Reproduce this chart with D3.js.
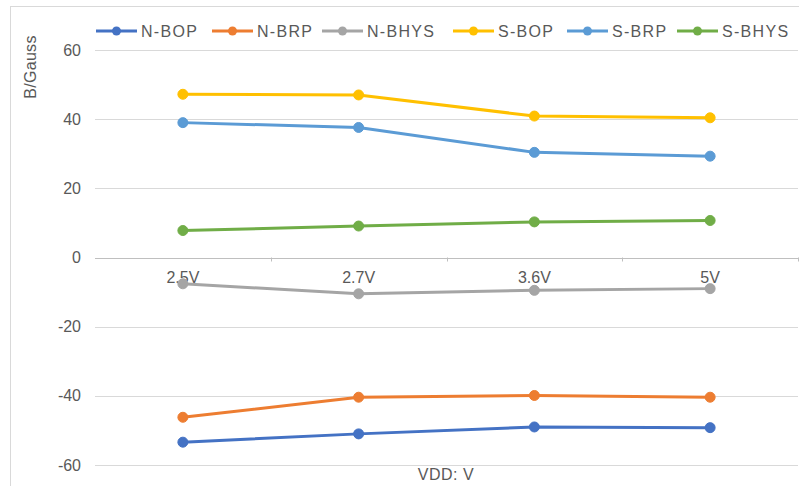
<!DOCTYPE html>
<html><head><meta charset="utf-8">
<script src="https://cdn.jsdelivr.net/npm/d3@7"></script>
<style>body{margin:0;background:#fff}svg{display:block}</style>
</head><body><svg id="c" width="799" height="486"></svg>
<script>
const categories = ["2.5V","2.7V","3.6V","5V"];
const seriesNames = ["N-BOP","N-BRP","N-BHYS","S-BOP","S-BRP","S-BHYS"];
const nBOP  = [-53.4,-51.0,-49.0,-49.2];
const nBRP  = [-46.2,-40.4,-39.9,-40.4];
const nBHYS = [-7.6,-10.5,-9.5,-9.0];
const sBOP  = [47.2,47.0,40.9,40.4];
const sBRP  = [39.0,37.6,30.4,29.3];
const sBHYS = [7.8,9.1,10.3,10.7];
const yTicks = [60,40,20,0,-20,-40,-60];
const colors = ["#4472C4","#ED7D31","#A5A5A5","#FFC000","#5B9BD5","#70AD47"];
const allSeries = [nBOP,nBRP,nBHYS,sBOP,sBRP,sBHYS];

const svg = d3.select("#c");
const font = "'Liberation Sans', Arial, sans-serif";
const txt = "#595959";

// chart border
svg.append("rect").attr("x",10.5).attr("y",6.5).attr("width",800).attr("height",490)
  .attr("fill","none").attr("stroke","#d9d9d9");

const x = d3.scaleBand().domain(categories).range([95,798]);
const y = d3.scaleLinear().domain([-60,60]).range([465,50]);

// gridlines
svg.append("g").selectAll("line").data(yTicks).join("line")
  .attr("x1",95).attr("x2",798).attr("y1",d=>Math.round(y(d))+0.5).attr("y2",d=>Math.round(y(d))+0.5)
  .attr("stroke",d=>d===0?"#bfbfbf":"#d9d9d9").attr("stroke-width",1);

// y tick labels
svg.append("g").selectAll("text").data(yTicks).join("text")
  .attr("x",81).attr("y",d=>y(d)).attr("dy","0.35em").attr("text-anchor","end")
  .attr("font-family",font).attr("font-size",16).attr("fill",txt).text(d=>d);

// x tick marks at zero line
svg.append("g").selectAll("line").data(categories).join("line")
  .attr("x1",(d,i)=>Math.round(x(d)+x.bandwidth())+0.5)
  .attr("x2",(d,i)=>Math.round(x(d)+x.bandwidth())+0.5)
  .attr("y1",y(0)).attr("y2",y(0)+4).attr("stroke","#bfbfbf");

// x labels
svg.append("g").selectAll("text").data(categories).join("text")
  .attr("x",d=>x(d)+x.bandwidth()/2).attr("y",y(0)+25).attr("text-anchor","middle")
  .attr("font-family",font).attr("font-size",16).attr("fill",txt).text(d=>d);

// axis titles
svg.append("text").attr("transform","translate(36,67) rotate(-90)").attr("text-anchor","middle")
  .attr("font-family",font).attr("font-size",16).attr("letter-spacing","0.3").attr("fill",txt).text("B/Gauss");
svg.append("text").attr("x",446).attr("y",480).attr("text-anchor","middle")
  .attr("font-family",font).attr("font-size",16).attr("letter-spacing","0.5").attr("fill",txt).text("VDD: V");

// series
const line = d3.line().x((d,i)=>x(categories[i])+x.bandwidth()/2).y(d=>y(d));
allSeries.forEach((s,k)=>{
  const g = svg.append("g");
  g.append("path").attr("d",line(s)).attr("fill","none").attr("stroke",colors[k])
    .attr("stroke-width",3).attr("stroke-linejoin","round");
  g.selectAll("circle").data(s).join("circle")
    .attr("cx",(d,i)=>x(categories[i])+x.bandwidth()/2).attr("cy",d=>y(d)).attr("r",5)
    .attr("fill",colors[k]).attr("stroke",colors[k]);
});

// legend
const legX = [96,212,322,453,567,677];
const leg = svg.append("g");
seriesNames.forEach((n,k)=>{
  const g = leg.append("g").attr("transform",`translate(${legX[k]},31)`);
  g.append("line").attr("x1",0).attr("x2",41).attr("stroke",colors[k]).attr("stroke-width",3);
  g.append("circle").attr("cx",20.5).attr("r",4.5).attr("fill",colors[k]);
  g.append("text").attr("x",45).attr("dy","0.36em").attr("font-family",font).attr("font-size",16)
    .attr("fill",txt).attr("letter-spacing","1.3").text(n);
});
</script></body></html>
